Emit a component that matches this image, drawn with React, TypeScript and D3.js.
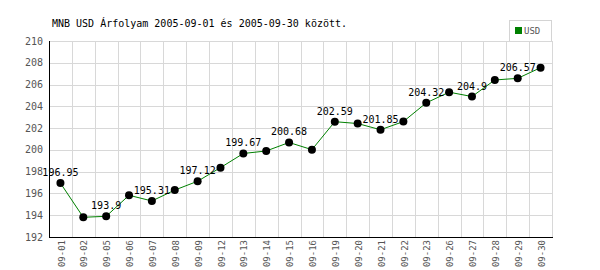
import React from "react";
import * as d3 from "d3";

const dates = ["09-01","09-02","09-05","09-06","09-07","09-08","09-09","09-12","09-13","09-14","09-15","09-16","09-19","09-20","09-21","09-22","09-23","09-26","09-27","09-28","09-29","09-30"];
const usd = [196.95,193.81,193.9,195.83,195.31,196.31,197.12,198.37,199.67,199.9,200.68,200.02,202.59,202.42,201.85,202.6,204.32,205.3,204.9,206.42,206.57,207.55];
const yTicks = [192,194,196,198,200,202,204,206,208,210];
const title = "MNB USD Árfolyam 2005-09-01 és 2005-09-30 között.";
const seriesName = "USD";

const W = 600, H = 270;
const left = 49, right = 552, top = 41, bottom = 237;
const mono = "'DejaVu Sans Mono', monospace";

export default function App() {
  const x = d3.scaleBand<string>().domain(dates).range([left, right]).padding(0);
  const bw = x.bandwidth();
  const cx = (d: string) => (x(d) as number) + bw / 2;
  const y = d3.scaleLinear().domain([192, 210]).range([bottom, top]);
  const line = d3.line<number>().x((_, i) => cx(dates[i])).y((v) => y(v));
  const gridX = dates.map((d) => x(d) as number).concat([right]);

  return (
    <svg width={W} height={H} style={{ position: "absolute", left: 0, top: 0, background: "#fff" }}>
      <rect x={0} y={0} width={W} height={H} fill="#fff" />
      <text x={52} y={27} fontFamily={mono} fontSize={10} fill="#000">{title}</text>
      {/* legend */}
      <rect x={509.5} y={20.5} width={42} height={21} fill="#fff" stroke="#d4d4d4" />
      <rect x={515} y={27} width={7} height={7} fill="#008000" />
      <text x={524} y={34} fontFamily={mono} fontSize={9} fill="#555">{seriesName}</text>
      {/* grid */}
      {yTicks.map((t) => (
        <line key={"h" + t} x1={left} x2={right} y1={Math.round(y(t)) + 0.5} y2={Math.round(y(t)) + 0.5} stroke="#d8d8d8" />
      ))}
      {gridX.map((gx, i) => (
        <line key={"v" + i} x1={Math.round(gx) + 0.5} x2={Math.round(gx) + 0.5} y1={top} y2={bottom} stroke="#d8d8d8" />
      ))}
      {/* axes */}
      <line x1={left + 0.5} x2={left + 0.5} y1={top} y2={bottom + 1} stroke="#000" />
      <line x1={left} x2={right + 1} y1={bottom + 0.5} y2={bottom + 0.5} stroke="#000" />
      {yTicks.map((t) => (
        <text key={"yl" + t} x={43} y={y(t)} dy="0.35em" textAnchor="end" fontFamily={mono} fontSize={10} fill="#555">{t}</text>
      ))}
      {dates.map((d) => (
        <text key={"xl" + d} transform={`translate(${cx(d) + 1},240) rotate(-90)`} dy="0.35em" textAnchor="end" fontFamily={mono} fontSize={9} fill="#555">{d}</text>
      ))}
      {/* series */}
      <path d={line(usd) as string} fill="none" stroke="#008000" strokeWidth={1} />
      {usd.map((v, i) => (
        <circle key={"p" + i} cx={cx(dates[i])} cy={y(v)} r={4} fill="#000" />
      ))}
      {usd.map((v, i) =>
        i % 2 === 0 ? (
          <text key={"dl" + i} x={cx(dates[i])} y={y(v) - 7} textAnchor="middle" fontFamily={mono} fontSize={10} fill="#000">{String(v)}</text>
        ) : null
      )}
    </svg>
  );
}
